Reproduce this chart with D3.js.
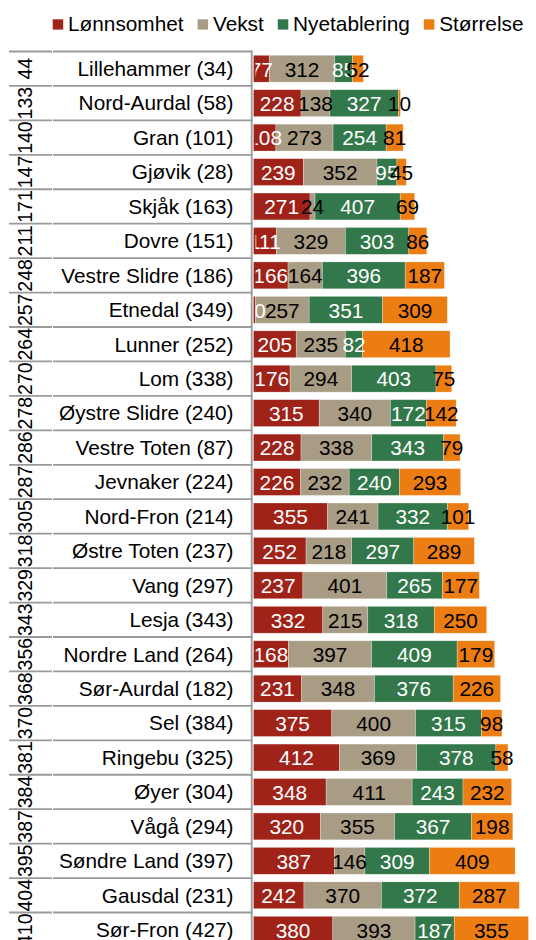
<!DOCTYPE html>
<html>
<head>
<meta charset="utf-8">
<script src="https://cdn.jsdelivr.net/npm/d3@7"></script>
<style>
  html, body { margin: 0; padding: 0; background: #fff; }
  svg { display: block; font-family: "Liberation Sans", Arial, sans-serif; }
</style>
</head>
<body>
<svg id="chart" width="536" height="940"></svg>
<script>
// Kommuner i Oppland/Innlandet: samlet rangering og delindekser
const municipalities = [
  "Lillehammer (34)", "Nord-Aurdal (58)", "Gran (101)", "Gjøvik (28)", "Skjåk (163)",
  "Dovre (151)", "Vestre Slidre (186)", "Etnedal (349)", "Lunner (252)", "Lom (338)",
  "Øystre Slidre (240)", "Vestre Toten (87)", "Jevnaker (224)", "Nord-Fron (214)",
  "Østre Toten (237)", "Vang (297)", "Lesja (343)", "Nordre Land (264)", "Sør-Aurdal (182)",
  "Sel (384)", "Ringebu (325)", "Øyer (304)", "Vågå (294)", "Søndre Land (397)",
  "Gausdal (231)", "Sør-Fron (427)"
];
const ranks = [44, 133, 140, 147, 171, 211, 248, 257, 264, 270, 278, 286, 287, 305,
  318, 329, 343, 356, 368, 370, 381, 384, 387, 395, 404, 410];

const seriesNames = ["Lønnsomhet", "Vekst", "Nyetablering", "Størrelse"];
const seriesColors = ["#A0231A", "#A89C84", "#33784A", "#EC7D12"];
const labelColors = ["#ffffff", "#000000", "#ffffff", "#000000"];

const lonnsomhet = [77, 228, 108, 239, 271, 111, 166, 10, 205, 176, 315, 228, 226, 355,
  252, 237, 332, 168, 231, 375, 412, 348, 320, 387, 242, 380];
const vekst = [312, 138, 273, 352, 24, 329, 164, 257, 235, 294, 340, 338, 232, 241,
  218, 401, 215, 397, 348, 400, 369, 411, 355, 146, 370, 393];
const nyetablering = [85, 327, 254, 95, 407, 303, 396, 351, 82, 403, 172, 343, 240, 332,
  297, 265, 318, 409, 376, 315, 378, 243, 367, 309, 372, 187];
const storrelse = [52, 10, 81, 45, 69, 86, 187, 309, 418, 75, 142, 79, 293, 101,
  289, 177, 250, 179, 226, 98, 58, 232, 198, 409, 287, 355];

const seriesValues = [lonnsomhet, vekst, nyetablering, storrelse];

const table = municipalities.map((name, i) => {
  const row = { name, rank: ranks[i] };
  seriesNames.forEach((s, j) => { row[s] = seriesValues[j][i]; });
  return row;
});

const svg = d3.select("#chart");
const W = 536, H = 940;
const fontSize = 20.8;

const plotLeft = 253.3;
const pxPerUnit = 0.2093;
const x = d3.scaleLinear().domain([0, 1400]).range([plotLeft, plotLeft + 1400 * pxPerUnit]);

const rowTop = 51.5, rowStep = 34.44;
const y = d3.scaleBand()
  .domain(municipalities)
  .range([rowTop, rowTop + rowStep * municipalities.length])
  .paddingInner(0.22)
  .paddingOuter(0.11);

const stacked = d3.stack().keys(seriesNames)(table);

// Clip regions: bars start at the axis, labels are hidden slightly inside it
const defs = svg.append("defs");
defs.append("clipPath").attr("id", "plotClip")
  .append("rect").attr("x", plotLeft).attr("y", 0).attr("width", W - plotLeft).attr("height", H);
defs.append("clipPath").attr("id", "labelClip")
  .append("rect").attr("x", 255.5).attr("y", 0).attr("width", W - 255.5).attr("height", H);

// Stacked bars
const barsG = svg.append("g").attr("clip-path", "url(#plotClip)");
barsG.selectAll("g.series")
  .data(stacked)
  .join("g")
  .attr("class", "series")
  .attr("fill", (d, i) => seriesColors[i])
  .selectAll("rect")
  .data(d => d)
  .join("rect")
  .attr("x", d => x(d[0]))
  .attr("y", d => y(d.data.name))
  .attr("width", d => x(d[1]) - x(d[0]))
  .attr("height", y.bandwidth())
  .attr("stroke", "#ffffff")
  .attr("stroke-opacity", 0.45)
  .attr("stroke-width", 0.6);

// Value labels centred in each segment
const labelsG = svg.append("g").attr("clip-path", "url(#labelClip)")
  .attr("font-size", fontSize).attr("text-anchor", "middle");
stacked.forEach((layer, i) => {
  labelsG.selectAll(null)
    .data(layer)
    .join("text")
    .attr("x", d => (x(d[0]) + x(d[1])) / 2)
    .attr("y", d => y(d.data.name) + y.bandwidth() / 2 + 7.8)
    .attr("fill", labelColors[i])
    .text(d => d.data[seriesNames[i]]);
});

// Two-level category axis: rank and municipality
const axisG = svg.append("g");
const boundaries = d3.range(municipalities.length + 1).map(i => rowTop + i * rowStep);
axisG.selectAll("line.sepA")
  .data(boundaries)
  .join("line")
  .attr("class", "sepA")
  .attr("x1", 9).attr("x2", 52)
  .attr("y1", d => d).attr("y2", d => d)
  .attr("stroke", "#9a9a9a").attr("stroke-width", 1.8);
axisG.selectAll("line.sepB")
  .data(boundaries)
  .join("line")
  .attr("class", "sepB")
  .attr("x1", 53).attr("x2", 252.5)
  .attr("y1", d => d).attr("y2", d => d)
  .attr("stroke", "#9a9a9a").attr("stroke-width", 1.8);
axisG.append("line")
  .attr("x1", 251.7).attr("x2", 251.7)
  .attr("y1", rowTop - 0.9).attr("y2", H)
  .attr("stroke", "#9a9a9a").attr("stroke-width", 1.8);

axisG.selectAll("text.name")
  .data(table)
  .join("text")
  .attr("class", "name")
  .attr("x", 233.5)
  .attr("y", d => y(d.name) + y.bandwidth() / 2 + 7.3)
  .attr("text-anchor", "end")
  .attr("font-size", fontSize)
  .attr("fill", "#000")
  .text(d => d.name);

axisG.selectAll("text.rank")
  .data(table)
  .join("text")
  .attr("class", "rank")
  .attr("text-anchor", "middle")
  .attr("font-size", 19.5)
  .attr("fill", "#000")
  .attr("transform", d => `translate(32.3, ${y(d.name) + y.bandwidth() / 2}) rotate(-90)`)
  .text(d => d.rank);

// Legend
const legend = svg.append("g").attr("font-size", fontSize);
let lx = 52.7;
seriesNames.forEach((s, i) => {
  legend.append("rect")
    .attr("x", lx).attr("y", 19.3).attr("width", 10.5).attr("height", 10.3)
    .attr("fill", seriesColors[i]);
  const t = legend.append("text")
    .attr("x", lx + 15.3).attr("y", 30.8)
    .attr("fill", "#000")
    .text(s);
  lx += 15.3 + t.node().getComputedTextLength() + 14;
});
</script>
</body>
</html>
